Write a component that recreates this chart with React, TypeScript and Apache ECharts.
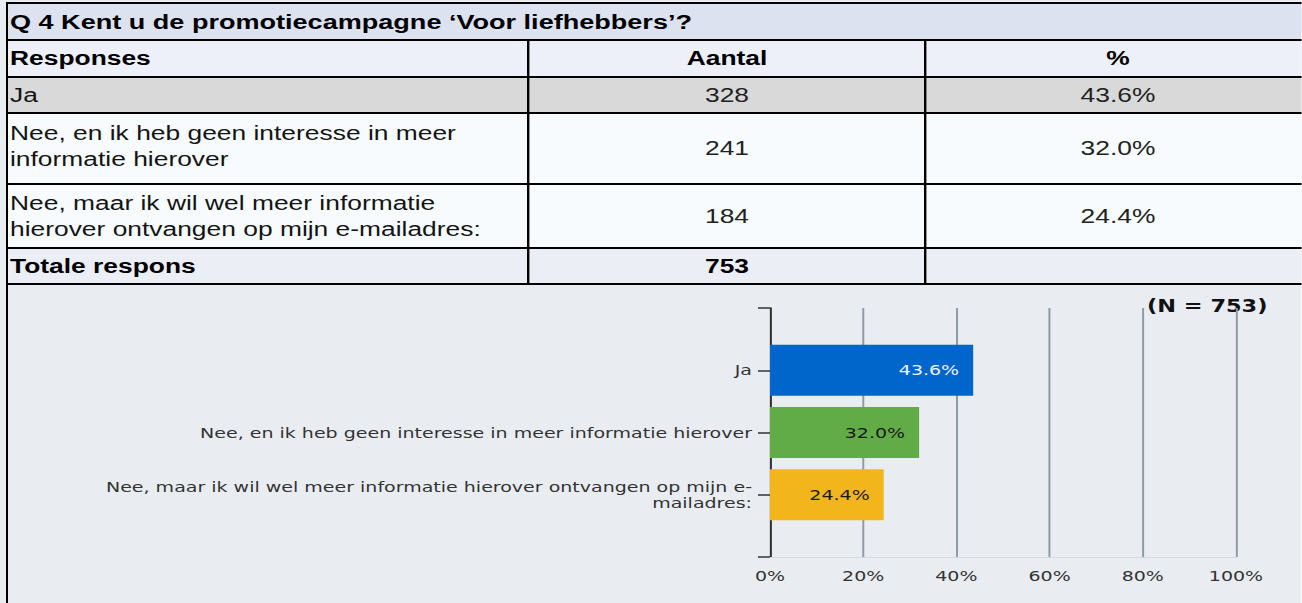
import React, { useEffect, useRef } from "react";
import * as echarts from "echarts";

// ---- data ----
const title = "Q 4 Kent u de promotiecampagne \u2018Voor liefhebbers\u2019?";
const headers = ["Responses", "Aantal", "%"];
const responses = [
  "Ja",
  "Nee, en ik heb geen interesse in meer informatie hierover",
  "Nee, maar ik wil wel meer informatie hierover ontvangen op mijn e-mailadres:",
];
const counts = [328, 241, 184];
const percents = [43.6, 32.0, 24.4];
const totalLabel = "Totale respons";
const total = 753;
const xTicks = [0, 20, 40, 60, 80, 100];

// ---- styles / layout ----
const barColors = ["#0066cc", "#62ac47", "#f2b61c"];
const barLabelColors = ["#eef3ff", "#1a1a1a", "#1a1a1a"];
const S = 1.32; // horizontal stretch of the original rendering
const X = (v: number) => v / S;
const W = 1302 / S;
const H = 603;
const FONT_T = '"Liberation Sans", Arial, sans-serif';
const FONT_C = '"DejaVu Sans", Verdana, sans-serif';
const CHART_FS = 14.4;
const rowEdges = [3, 40, 77, 113, 184, 248, 284];
const rowFills = ["#dce2ef", "#edf0f8", "#d9d9d9", "#f7fbfd", "#f7fbfd", "#eceef6"];
const colLines = [528, 925];
const col2Center = 727;
const col3Center = 1118;

function txt(text: string, x: number, y: number, extra: any = {}) {
  const align = extra.align || "left";
  return {
    type: "text",
    x,
    y,
    silent: true,
    style: {
      text,
      fill: "#141414",
      fontFamily: FONT_T,
      fontSize: 20,
      fontWeight: "normal",
      align,
      textAlign: align,
      verticalAlign: "middle",
      textVerticalAlign: "middle",
      ...extra,
    },
  };
}

export default function App() {
  const ref = useRef<HTMLDivElement>(null);
  useEffect(() => {
    document.documentElement.style.overflow = "hidden";
    document.body.style.overflow = "hidden";
    const chart = echarts.init(ref.current!, undefined, { renderer: "svg" });
    const g: any[] = [];
    rowFills.forEach((f, i) =>
      g.push({
        type: "rect",
        silent: true,
        shape: { x: X(7), y: rowEdges[i], width: W, height: rowEdges[i + 1] - rowEdges[i] },
        style: { fill: f },
      })
    );
    rowEdges.forEach((y) =>
      g.push({ type: "rect", silent: true, shape: { x: X(6), y: y - 1, width: W, height: 2 }, style: { fill: "#000" } })
    );
    colLines.forEach((x) =>
      g.push({
        type: "rect",
        silent: true,
        shape: { x: X(x - 1), y: rowEdges[1], width: X(2.4), height: rowEdges[6] - rowEdges[1] },
        style: { fill: "#000" },
      })
    );
    g.push({ type: "rect", silent: true, shape: { x: X(6), y: 2, width: X(2), height: H }, style: { fill: "#000" } });

    // title + header
    g.push(txt(title, X(10), 21.5, { fontWeight: "bold", fill: "#000", fontSize: 20.5 }));
    g.push(txt(headers[0], X(10), 58.5, { fontWeight: "bold", fill: "#000" }));
    g.push(txt(headers[1], X(col2Center), 58.5, { fontWeight: "bold", fill: "#000", align: "center" }));
    g.push(txt(headers[2], X(col3Center), 58.5, { fontWeight: "bold", fill: "#000", align: "center" }));
    // rows
    responses.forEach((r, i) => {
      const mid = (rowEdges[i + 2] + rowEdges[i + 3]) / 2;
      g.push(txt(r, X(10), i === 1 ? mid - 2.5 : mid, { width: X(516), overflow: "break", lineHeight: 25.5 }));
      g.push(txt(String(counts[i]), X(col2Center), mid, { align: "center", fill: "#222" }));
      g.push(txt(percents[i].toFixed(1) + "%", X(col3Center), mid, { align: "center", fill: "#222" }));
    });
    const tmid = (rowEdges[5] + rowEdges[6]) / 2;
    g.push(txt(totalLabel, X(10), tmid, { fontWeight: "bold", fill: "#000" }));
    g.push(txt(String(total), X(col2Center), tmid, { fontWeight: "bold", fill: "#000", align: "center" }));
    g.push(
      txt("(N = " + total + ")", X(1147), 306, { fontFamily: FONT_C, fontSize: 17, fontWeight: "bold", fill: "#111" })
    );

    chart.setOption({
      animation: false,
      backgroundColor: "#e9edf1",
      graphic: { elements: g },
      grid: { left: X(770), top: 308, width: X(1236) - X(770), height: 249, containLabel: false },
      xAxis: {
        type: "value",
        min: xTicks[0],
        max: xTicks[xTicks.length - 1],
        interval: xTicks[1] - xTicks[0],
        axisLine: { show: true, lineStyle: { color: "#d3dae2", width: 1 } },
        axisTick: { show: false },
        splitLine: { show: true, lineStyle: { color: "#8e9ba6", width: 1.5 } },
        axisLabel: {
          formatter: (v: number) => v + "%",
          color: "#333",
          fontFamily: FONT_C,
          fontSize: CHART_FS,
          margin: 12,
        },
      },
      yAxis: {
        type: "category",
        data: ["", ...responses, ""],
        inverse: true,
        boundaryGap: false,
        axisLine: { show: true, lineStyle: { color: "#333", width: 1.5 } },
        axisTick: { show: true, length: X(12), lineStyle: { color: "#333", width: 1.5 } },
        splitLine: { show: false },
        axisLabel: {
          interval: 0,
          margin: X(18),
          color: "#333",
          fontFamily: FONT_C,
          fontSize: CHART_FS,
          lineHeight: 15.5,
          formatter: (v: string) => v.replace(" e-mailadres:", " e-\nmailadres:"),
        },
      },
      series: [
        {
          type: "bar",
          barWidth: 51,
          data: [
            "-",
            ...percents.map((v, i) => ({
              value: v,
              itemStyle: { color: barColors[i] },
              label: { color: barLabelColors[i] },
            })),
            "-",
          ],
          label: {
            show: true,
            position: "insideRight",
            distance: X(14),
            fontFamily: FONT_C,
            fontSize: CHART_FS,
            formatter: (p: any) => (typeof p.value === "number" ? p.value.toFixed(1) + "%" : ""),
          },
        },
      ],
    });
    return () => chart.dispose();
  }, []);
  return (
    <div
      style={{
        position: "absolute",
        left: 0,
        top: 0,
        width: W,
        height: H,
        transform: `scaleX(${S})`,
        transformOrigin: "0 0",
      }}
    >
      <div ref={ref} style={{ width: W, height: H }} />
    </div>
  );
}
